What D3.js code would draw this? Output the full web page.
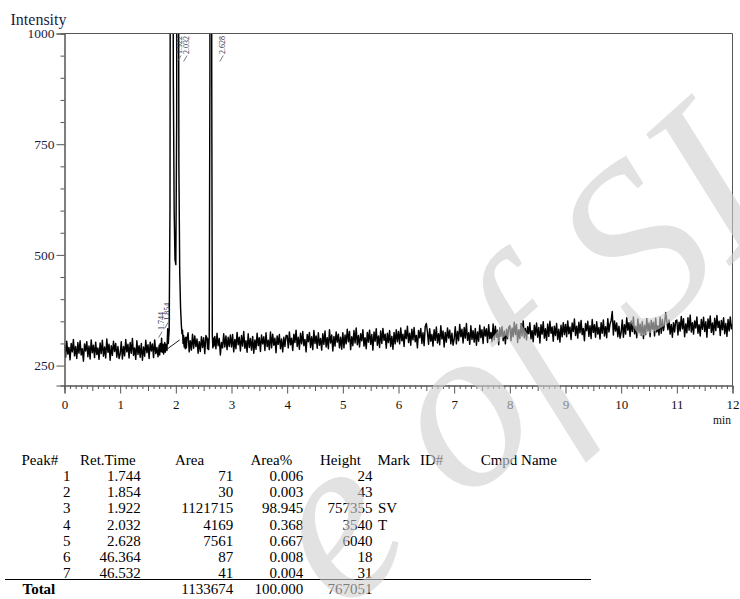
<!DOCTYPE html>
<html><head><meta charset="utf-8">
<script src="https://cdn.jsdelivr.net/npm/d3@7/dist/d3.min.js"></script>
<style>
body{margin:0;background:#fff}
svg{display:block}
text{font-family:"Liberation Serif","Times New Roman",serif}
</style>
</head><body>
<svg id="c" width="740" height="599"></svg>
<script>
// ---------------- DATA ----------------
// detector signal sampled every 0.02 min from 0 to 12 min
const sampleStep = 0.02;
const signal = [
297,269,305,276,291,263,300,281,309,272,293,266,302,278,306,274,288,260,299,283,304,270,294,265,308,279,296,268,303,275,290,264,301,277,307,271,292,267,310,280,298,262,295,273,305,282,300,269,293,266,
276,304,265,293,272,309,281,298,267,302,278,311,273,290,264,306,275,295,269,300,262,292,271,307,279,297,266,303,283,299,268,308,277,291,270,310,274,305,280,296,263,301,282,304,272,294,265,298,277,302,
280,307,283,314,296,319,287,309,276,312,294,324,281,306,285,321,289,317,293,310,278,304,282,315,291,313,277,318,297,308,284,320,286,305,279,316,288,323,295,311,274,302,290,322,292,317,286,314,293,319,
292,320,281,309,288,325,297,314,283,318,294,327,289,306,280,322,291,311,285,316,278,308,287,323,295,313,282,319,299,315,284,324,293,307,286,326,290,321,296,312,279,317,298,320,288,310,281,314,293,318,
318,290,326,297,312,284,321,302,330,293,314,287,323,299,327,295,309,281,320,304,325,291,315,286,329,300,317,289,324,296,311,285,322,298,328,292,313,288,331,301,319,283,316,294,326,303,321,290,314,287,
324,290,319,299,332,304,327,286,315,295,329,301,335,297,318,292,322,306,331,294,313,288,325,303,330,298,320,285,326,305,333,296,317,291,328,300,334,307,321,289,323,302,329,293,316,287,325,299,331,304,
327,299,335,306,321,293,330,311,339,302,323,296,332,308,336,304,318,290,329,313,334,300,324,295,338,345,326,298,333,305,320,294,331,307,337,301,322,297,340,310,328,292,325,303,335,312,330,299,323,296,
310,338,299,327,306,343,315,332,301,336,312,345,307,324,298,340,309,329,303,334,296,326,305,341,313,331,300,337,317,333,302,342,311,325,304,344,308,339,314,330,297,335,316,338,306,328,299,332,311,336,
340,306,335,315,348,320,343,302,331,311,345,317,351,313,334,308,338,322,347,310,329,304,341,319,346,314,336,301,342,321,349,312,333,307,344,316,350,323,337,305,339,318,345,309,332,303,341,315,347,320,
343,315,351,322,337,309,346,327,355,318,339,312,348,324,352,320,334,306,345,329,350,316,340,311,354,325,342,314,349,321,336,310,347,323,353,317,338,313,356,326,344,352,372,319,351,328,346,315,339,312,
325,353,314,342,321,358,330,347,316,351,327,360,322,339,313,355,324,344,318,349,311,341,320,356,328,346,315,352,332,348,317,357,326,340,319,359,323,354,329,345,370,350,331,353,321,343,314,347,326,351,
353,319,348,328,361,333,356,315,344,324,358,330,364,326,347,321,351,335,360,323,342,317,354,332,359,327,349,314,355,334,362,325,346,320,357,329,363,336,350,318,352,331,358,322,345,316,354,328,360,333,
344
];
// finely sampled trace around the peaks [time, intensity]
const peakTrace = [
[1.70,296],[1.71,274],[1.72,300],[1.735,282],[1.744,312],[1.755,280],[1.77,298],[1.78,276],[1.80,302],
[1.81,280],[1.82,298],[1.84,284],[1.854,333],[1.865,300],[1.88,330],[1.895,600],[1.905,1800],
[1.922,3000],[1.94,1800],[1.955,900],[1.97,600],[1.985,490],[2.00,478],[2.015,800],[2.032,3800],
[2.045,1500],[2.055,700],[2.07,460],[2.085,380],[2.10,340],[2.11,322],[2.12,330],[2.13,300],
[2.14,318],[2.15,292],[2.16,312],[2.17,288],[2.18,314],[2.19,290],[2.20,310],
[2.56,312],[2.57,288],[2.58,310],[2.59,286],[2.60,314],[2.612,900],[2.628,6300],[2.645,900],
[2.655,320],[2.665,290],[2.675,312],[2.685,294]
];
const peakWindows = [[1.69,2.21],[2.55,2.69]];
const integrationBaseline = [[1.83,286],[2.07,308]];

// peak table
const peakNo   = [1,2,3,4,5,6,7];
const retTime  = ["1.744","1.854","1.922","2.032","2.628","46.364","46.532"];
const area     = [71,30,1121715,4169,7561,87,41];
const areaPct  = ["0.006","0.003","98.945","0.368","0.667","0.008","0.004"];
const heightV  = [24,43,757355,3540,6040,18,31];
const mark     = ["","","SV","T","","",""];
const totals   = {area:1133674, pct:"100.000", height:767051};
// peak apex intensity used for labels (baseline + height)
const labelApex = [312,333,758000,3840,6340];

const xTicks = [0,1,2,3,4,5,6,7,8,9,10,11,12];
const yTicks = [250,500,750,1000];
const watermark = "e of SI";

// ---------------- DRAW ----------------
const svg = d3.select("#c");
const x = d3.scaleLinear().domain([0,12]).range([64.5,732.5]);
const y = d3.scaleLinear().domain([205,1000]).range([385.5,33.5]);

let pts = signal.map((v,i)=>[i*sampleStep, v])
  .filter(d=>!peakWindows.some(w=>d[0]>=w[0]&&d[0]<=w[1]));
pts = pts.concat(peakTrace).sort((a,b)=>a[0]-b[0]);

svg.append("clipPath").attr("id","plotclip").append("rect")
  .attr("x",x(0)).attr("y",y(1000)).attr("width",x(12)-x(0)).attr("height",y(205)-y(1000));

const line = d3.line().x(d=>x(d[0])).y(d=>y(d[1]));
const gPlot = svg.append("g").attr("clip-path","url(#plotclip)");
gPlot.append("path").datum(pts).attr("d",line)
  .attr("fill","none").attr("stroke","#000").attr("stroke-width",1.45).attr("stroke-linejoin","round");
gPlot.append("path").datum(integrationBaseline).attr("d",line)
  .attr("fill","none").attr("stroke","#000").attr("stroke-width",0.9);

// frame
const axisColor="#555";
svg.append("line").attr("x1",x(0)).attr("x2",x(12)).attr("y1",y(1000)).attr("y2",y(1000)).attr("stroke",axisColor);
svg.append("line").attr("x1",x(12)).attr("x2",x(12)).attr("y1",y(1000)).attr("y2",y(205)).attr("stroke",axisColor);

// x axis
const gx = svg.append("g").attr("transform",`translate(0,${y(205)})`);
gx.call(d3.axisBottom(x).tickValues(d3.range(0,121).filter(i=>i%10!==0).map(i=>i/10))
   .tickSize(4).tickFormat(""));
gx.selectAll(".tick line").attr("y2",d=>Math.abs(d*10%10-5)<0.01?5.5:3.5);
const gx2 = svg.append("g").attr("transform",`translate(0,${y(205)})`);
gx2.call(d3.axisBottom(x).tickValues(xTicks).tickSize(8).tickPadding(6).tickFormat(d3.format("d")));
gx.selectAll("line").attr("stroke",axisColor);
gx2.selectAll("line").attr("stroke",axisColor);
gx2.selectAll("text").attr("font-size",13).attr("fill","#111");

// y axis
const gy = svg.append("g").attr("transform",`translate(${x(0)},0)`);
gy.call(d3.axisLeft(y).tickValues(d3.range(250,1001,50).filter(v=>v%250!==0)).tickSize(4).tickFormat(""));
const gy2 = svg.append("g").attr("transform",`translate(${x(0)},0)`);
gy2.call(d3.axisLeft(y).tickValues(yTicks).tickSize(8).tickPadding(2).tickFormat(d3.format("d")));
svg.selectAll("path.domain").attr("stroke",axisColor);
gy.selectAll("line").attr("stroke",axisColor);
gy2.selectAll("line").attr("stroke",axisColor);
gy2.selectAll("text").attr("font-size",13.5).attr("fill","#1c1c44");

svg.append("text").attr("x",10.5).attr("y",24.5).attr("font-size",16).attr("fill","#1c1c44").text("Intensity");
svg.append("text").attr("x",731).attr("y",424).attr("text-anchor","end").attr("font-size",11.5).attr("fill","#111").text("min");

// peak labels
retTime.slice(0,5).forEach((t,i)=>{
  const tv=+t;
  const off = labelApex[i]>1000 ? (i===4?14:11) : 2;
  const bx = x(tv)+off;
  const by = Math.max(y(labelApex[i])-8, 54);
  svg.append("text").attr("transform",`translate(${bx},${by}) rotate(-90)`)
    .attr("font-size",8).attr("fill","#33334d").text(t);
  svg.append("line").attr("x1",bx-5).attr("y1",by+7.5).attr("x2",bx-1.5).attr("y2",by+1.5)
    .attr("stroke","#55556a").attr("stroke-width",0.8);
});

// table
const tf = 15;
const rowY = peakNo.map((d,i)=>481+i*16.2);
const headers = [["Peak#",21.5],["Ret.Time",80],["Area",175],["Area%",250.5],["Height",320],["Mark",377.5],["ID#",420],["Cmpd Name",480.7]];
const gT = svg.append("g").attr("font-size",tf).attr("fill","#000");
headers.forEach(h=>gT.append("text").attr("x",h[1]).attr("y",465).text(h[0]));
const cols = [[peakNo,70.5],[retTime,140.7],[area,233.3],[areaPct,303.3],[heightV,372.5]];
cols.forEach(c=>{
  gT.selectAll(null).data(c[0]).enter().append("text")
    .attr("x",c[1]).attr("y",(d,i)=>rowY[i]).attr("text-anchor","end").text(d=>d);
});
gT.selectAll(null).data(mark).enter().append("text")
  .attr("x",378).attr("y",(d,i)=>rowY[i]).text(d=>d);
svg.append("line").attr("x1",5).attr("x2",591).attr("y1",579.5).attr("y2",579.5).attr("stroke","#000").attr("stroke-width",1);
gT.append("text").attr("x",22.5).attr("y",594).attr("font-weight","bold").text("Total");
gT.append("text").attr("x",233.3).attr("y",594).attr("text-anchor","end").text(totals.area);
gT.append("text").attr("x",303.3).attr("y",594).attr("text-anchor","end").text(totals.pct);
gT.append("text").attr("x",372.5).attr("y",594).attr("text-anchor","end").text(totals.height);

// watermark
svg.append("text").attr("transform","translate(342,615) rotate(-42)")
  .attr("font-size",235).attr("font-style","italic").attr("fill","#d0d0d0").attr("opacity",0.6)
  .style("pointer-events","none").text(watermark);
</script>
</body></html>
